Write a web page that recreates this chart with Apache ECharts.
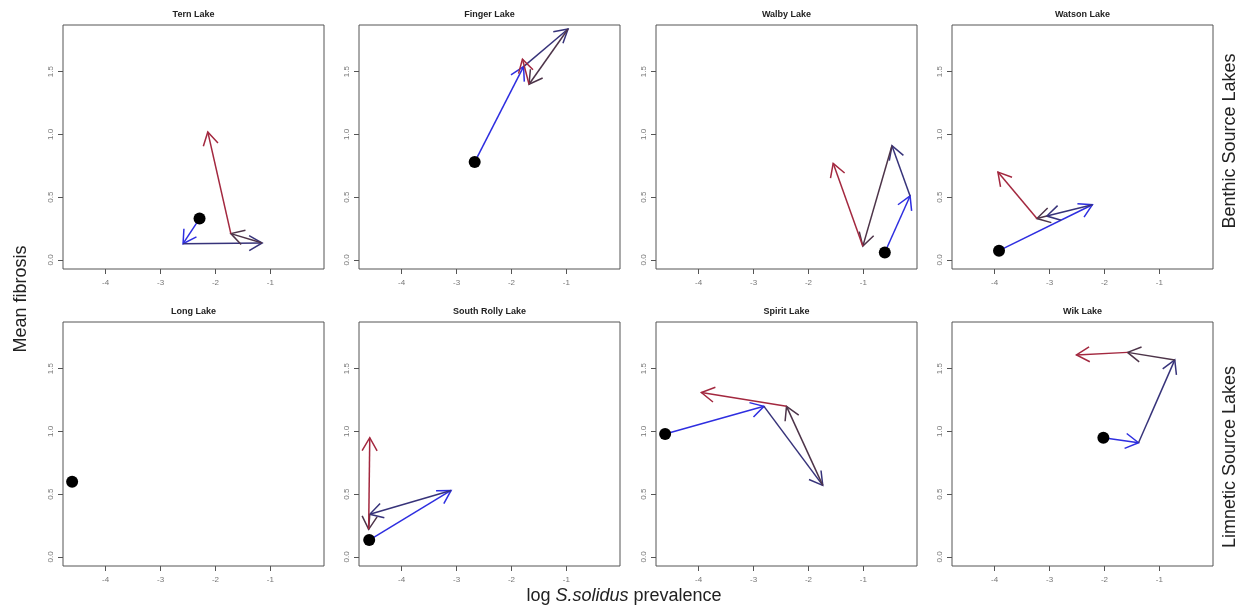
<!DOCTYPE html>
<html>
<head>
<meta charset="utf-8">
<title>Mean fibrosis vs log S.solidus prevalence</title>
<script src="https://cdn.jsdelivr.net/npm/echarts@6/dist/echarts.min.js"></script>
<style>
    html, body { margin: 0; padding: 0; background: #fff; }
    #main { width: 1246px; height: 611px; }
</style>
</head>
<body>
<div id="main"></div>
<script>
// lake names, in panel order (top row benthic, bottom row limnetic)
var lakeNames = ['Tern Lake', 'Finger Lake', 'Walby Lake', 'Watson Lake',
                 'Long Lake', 'South Rolly Lake', 'Spirit Lake', 'Wik Lake'];

// trajectories: log prevalence (x) and mean fibrosis (y), first point = black dot
var ternX = [-2.29, -2.59, -1.15, -1.72, -2.14];
var ternY = [0.33, 0.13, 0.135, 0.21, 1.02];
var fingerX = [-2.67, -1.78, -0.97, -1.68, -1.80];
var fingerY = [0.78, 1.54, 1.84, 1.40, 1.60];
var walbyX = [-0.61, -0.15, -0.48, -1.01, -1.55];
var walbyY = [0.06, 0.51, 0.91, 0.11, 0.77];
var watsonX = [-3.92, -2.22, -3.05, -3.23, -3.94];
var watsonY = [0.074, 0.44, 0.35, 0.33, 0.70];
var longX = [-4.61];
var longY = [0.60];
var rollyX = [-4.59, -3.10, -4.58, -4.60, -4.58];
var rollyY = [0.135, 0.53, 0.34, 0.22, 0.95];
var spiritX = [-4.61, -2.81, -1.74, -2.40, -3.95];
var spiritY = [0.98, 1.20, 0.57, 1.20, 1.31];
var wikX = [-2.02, -1.38, -0.72, -1.58, -2.51];
var wikY = [0.95, 0.91, 1.57, 1.63, 1.61];

var xTicks = [-4, -3, -2, -1];
var yTicks = [0, 0.5, 1.0, 1.5];

// colour of each step, blue -> red
var stepColors = ['#2e2ee0', '#37337a', '#4d3449', '#a3283f'];

var lakesX = [ternX, fingerX, walbyX, watsonX, longX, rollyX, spiritX, wikX];
var lakesY = [ternY, fingerY, walbyY, watsonY, longY, rollyY, spiritY, wikY];

var colLeft = [63, 359, 656, 952];
var rowTop = [25, 322];
var panelW = 261, panelH = 244;
var labelFont = 'Liberation Sans, Arial, sans-serif';

var chart = echarts.init(document.getElementById('main'));

function renderArrow(params, api) {
    var p0 = api.coord([api.value(0), api.value(1)]);
    var p1 = api.coord([api.value(2), api.value(3)]);
    var color = stepColors[api.value(4)];
    var ang = Math.atan2(p1[1] - p0[1], p1[0] - p0[0]);
    var len = 15, a = Math.PI / 6;
    return {
        type: 'group',
        children: [
            {type: 'line', shape: {x1: p0[0], y1: p0[1], x2: p1[0], y2: p1[1]},
             style: {stroke: color, lineWidth: 1.5}},
            {type: 'polyline', shape: {points: [
                [p1[0] - len * Math.cos(ang - a), p1[1] - len * Math.sin(ang - a)],
                [p1[0], p1[1]],
                [p1[0] - len * Math.cos(ang + a), p1[1] - len * Math.sin(ang + a)]
             ]},
             style: {stroke: color, fill: 'none', lineWidth: 1.5}}
        ]
    };
}

var grids = [], xAxes = [], yAxes = [], series = [], graphics = [];

for (var i = 0; i < lakeNames.length; i++) {
    var pLeft = colLeft[i % 4], pTop = rowTop[Math.floor(i / 4)];
    grids.push({
        left: pLeft, top: pTop, width: panelW, height: panelH,
        show: true, borderColor: '#555', borderWidth: 1, backgroundColor: '#fff'
    });
    xAxes.push({
        gridIndex: i, type: 'value', min: -4.776, max: -0.024, position: 'bottom',
        axisLine: {show: false, onZero: false},
        splitLine: {show: false},
        axisTick: {show: true, length: 5, customValues: xTicks, lineStyle: {color: '#555'}},
        axisLabel: {customValues: xTicks, color: '#777', fontSize: 8, margin: 10, fontFamily: labelFont}
    });
    yAxes.push({
        gridIndex: i, type: 'value', min: -0.072, max: 1.872, position: 'left',
        axisLine: {show: false, onZero: false},
        splitLine: {show: false},
        axisTick: {show: true, length: 5, customValues: yTicks, lineStyle: {color: '#555'}},
        axisLabel: {
            customValues: yTicks, rotate: 90, color: '#777', fontSize: 8, margin: 8,
            fontFamily: labelFont,
            formatter: function (v) { return Number(v).toFixed(1); }
        }
    });

    // arrows from one point to the next
    var xs = lakesX[i], ys = lakesY[i], segs = [];
    for (var k = 0; k < xs.length - 1; k++) {
        segs.push([xs[k], ys[k], xs[k + 1], ys[k + 1], k]);
    }
    if (segs.length) {
        series.push({
            type: 'custom', xAxisIndex: i, yAxisIndex: i,
            renderItem: renderArrow, data: segs, silent: true, z: 2
        });
    }
    series.push({
        type: 'scatter', xAxisIndex: i, yAxisIndex: i,
        data: [[xs[0], ys[0]]], symbolSize: 12,
        itemStyle: {color: '#000', opacity: 1}, silent: true, z: 3
    });

    graphics.push({
        type: 'text', x: pLeft + panelW / 2, y: pTop - 10,
        style: {
            text: lakeNames[i], font: 'bold 9px ' + labelFont, fill: '#222',
            textAlign: 'center', textVerticalAlign: 'middle'
        }
    });
}

// outer labels
graphics.push({
    type: 'text', x: 21, y: 299, rotation: Math.PI / 2,
    style: {text: 'Mean fibrosis', font: '18px ' + labelFont, fill: '#222',
            textAlign: 'center', textVerticalAlign: 'middle'}
});
graphics.push({
    type: 'text', x: 624, y: 596,
    style: {
        text: 'log {i|S.solidus} prevalence', font: '18px ' + labelFont, fill: '#222',
        textAlign: 'center', textVerticalAlign: 'middle',
        rich: {i: {fontStyle: 'italic', fontSize: 18, fontFamily: labelFont}}
    }
});
graphics.push({
    type: 'text', x: 1230, y: 141, rotation: Math.PI / 2,
    style: {text: 'Benthic Source Lakes', font: '18px ' + labelFont, fill: '#222',
            textAlign: 'center', textVerticalAlign: 'middle'}
});
graphics.push({
    type: 'text', x: 1230, y: 457, rotation: Math.PI / 2,
    style: {text: 'Limnetic Source Lakes', font: '18px ' + labelFont, fill: '#222',
            textAlign: 'center', textVerticalAlign: 'middle'}
});

var option = {
    backgroundColor: '#fff',
    animation: false,
    grid: grids,
    xAxis: xAxes,
    yAxis: yAxes,
    series: series,
    graphic: graphics
};

chart.setOption(option);
window.addEventListener('resize', function () {
    chart.resize();
});
</script>
</body>
</html>
